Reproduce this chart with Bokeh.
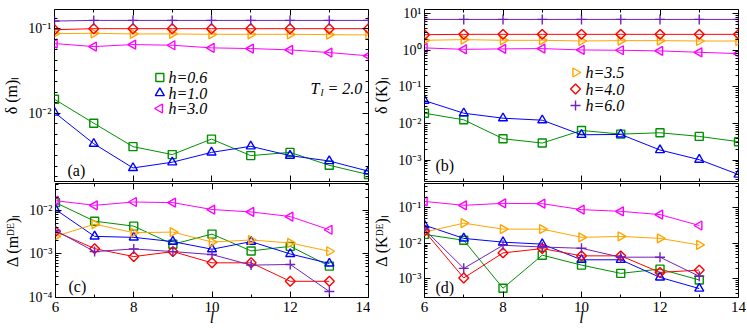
import math
from bokeh.plotting import figure
from bokeh.layouts import column, row
from bokeh.models import (Range1d, FixedTicker, LinearAxis, LogAxis, LinearScale,
                          Label, CustomJSTickFormatter)
from bokeh.embed import file_html
from bokeh.resources import INLINE

# ---------------- data ----------------
L = [6, 7, 8, 9, 10, 11, 12, 13, 14]
L13 = [6, 7, 8, 9, 10, 11, 12, 13]

h_labels = ["h=0.6", "h=1.0", "h=3.0", "h=3.5", "h=4.0", "h=6.0"]

# (a) delta <m>_l
a_h06 = [0.0146, 0.00762, 0.00402, 0.00324, 0.00494, 0.00315, 0.00344, 0.00242, 0.00188]
a_h10 = [0.0102, 0.00436, 0.00225, 0.00263, 0.00344, 0.00406, 0.00315, 0.00272, 0.00206]
a_h30 = [0.0667, 0.0614, 0.0649, 0.0637, 0.0593, 0.0582, 0.0561, 0.0522, 0.0477]
a_h35 = [0.0873, 0.0882, 0.0866, 0.0866, 0.0858, 0.0858, 0.0858, 0.0850, 0.0842]
a_h40 = [0.0973, 0.100, 0.100, 0.100, 0.100, 0.100, 0.100, 0.100, 0.100]
a_h60 = [0.1231, 0.1253, 0.1253, 0.1253, 0.1253, 0.1253, 0.1253, 0.1253, 0.1253]

# (b) delta <K>_l
b_h06 = [0.0191, 0.0126, 0.00384, 0.00292, 0.00646, 0.00513, 0.00558, 0.00444, 0.00318]
b_h10 = [0.0421, 0.0191, 0.01396, 0.0123, 0.00492, 0.00503, 0.00189, 0.00103, 0.000404]
b_h30 = [1.16, 1.06, 1.09, 1.11, 1.02, 1.00, 0.96, 0.88, 0.81]
b_h35 = [1.87, 1.95, 1.87, 1.87, 1.79, 1.83, 1.83, 1.79, 1.79]
b_h40 = [2.66, 2.72, 2.72, 2.72, 2.72, 2.72, 2.72, 2.72, 2.72]
b_h60 = [6.95, 6.95, 6.95, 6.95, 6.95, 6.95, 6.95, 6.95, 6.95]

# (c) Delta <m^DE>_l
c_h06 = [0.0150, 0.00561, 0.00431, 0.00165, 0.00283, 0.00116, 0.00148, 0.000519]
c_h10 = [0.0104, 0.00251, 0.00238, 0.00190, 0.00127, 0.00190, 0.00099, 0.000597]
c_h30 = [0.0166, 0.0130, 0.0155, 0.0150, 0.0104, 0.00916, 0.00717, 0.00356]
c_h35 = [0.00251, 0.00480, 0.00304, 0.00315, 0.00186, 0.00207, 0.00177, 0.00114]
c_h40 = [0.00326, 0.00131, 0.00086, 0.00112, 0.000618, 0.000618, 0.000232, 0.000232]
c_h60 = [0.00343, 0.00112, 0.00129, 0.00112, 0.000957, 0.000547, 0.000566, 0.000135]

# (d) Delta <K^DE>_l
d_h06 = [0.0180, 0.0123, 0.00055, 0.00468, 0.00246, 0.00144, 0.00190, 0.000937]
d_h10 = [0.0328, 0.0139, 0.0109, 0.00958, 0.00347, 0.00347, 0.00111, 0.000537]
d_h30 = [0.153, 0.119, 0.135, 0.132, 0.0898, 0.0806, 0.0651, 0.0321]
d_h35 = [0.0210, 0.0373, 0.0254, 0.0254, 0.0149, 0.0158, 0.0139, 0.00908]
d_h40 = [0.0223, 0.00107, 0.00543, 0.00718, 0.00448, 0.00448, 0.00153, 0.00178]
d_h60 = [0.0248, 0.00199, 0.0089, 0.00795, 0.00733, 0.00411, 0.00411, 0.00119]

x_ticks = [6, 8, 10, 12, 14]
x_minor = [7, 9, 11, 13]

# ---------------- style ----------------
FONT = "Liberation Serif"
colors = ["#009000", "#0000ff", "#ff00ff", "#ffa500", "#ff0000", "#7221bc"]
markers = ["square", "triangle", "triangle", "triangle", "square", "cross"]
angles = [0, 0, math.pi / 2, -math.pi / 2, math.pi / 4, 0]
sizes = [8, 9, 9, 9, 7, 10]

sup_fmt = CustomJSTickFormatter(code="""
const e = Math.round(Math.log10(tick));
const m = {"-":"\u207b","0":"\u2070","1":"\u00b9","2":"\u00b2","3":"\u00b3","4":"\u2074","5":"\u2075"};
return "10" + String(e).split("").map(c => m[c]).join("");
""")


def log_minor(lo, hi):
    return [m * 10.0 ** k for k in range(lo, hi) for m in range(2, 10)]


def make_panel(w, h, bl, br, bt, bb, ylo, yhi, yticks, yminor, ylabel, show_x_labels):
    p = figure(width=w, height=h, y_axis_type="log", output_backend="svg",
               toolbar_location=None, min_border_left=bl, min_border_right=br,
               min_border_top=bt, min_border_bottom=bb,
               x_range=Range1d(6, 14), y_range=Range1d(ylo, yhi))
    p.xgrid.visible = False
    p.ygrid.visible = False
    p.outline_line_color = "black"
    p.outline_line_width = 1
    p.background_fill_color = "white"
    p.border_fill_color = "white"

    yt = FixedTicker(ticks=yticks, minor_ticks=yminor)
    xt = FixedTicker(ticks=x_ticks, minor_ticks=x_minor)

    def style(ax, labels):
        ax.axis_line_color = None
        ax.major_tick_in = 6
        ax.major_tick_out = 0
        ax.minor_tick_in = 3
        ax.minor_tick_out = 0
        ax.major_tick_line_color = "black"
        ax.minor_tick_line_color = "black"
        if labels:
            ax.major_label_text_font = FONT
            ax.major_label_text_color = "black"
        else:
            ax.major_label_text_font_size = "1px"
            ax.major_label_text_alpha = 0
            ax.major_label_standoff = 0

    ya = p.yaxis[0]
    ya.ticker = yt
    ya.formatter = sup_fmt
    style(ya, True)
    ya.major_label_text_font_size = "14px"
    ya.major_label_standoff = 3
    ya.axis_label = ylabel
    ya.axis_label_text_font = FONT
    ya.axis_label_text_font_size = "16px"
    ya.axis_label_text_font_style = "normal"
    ya.axis_label_text_color = "black"
    ya.axis_label_standoff = 5

    xa = p.xaxis[0]
    xa.ticker = xt
    style(xa, show_x_labels)
    if show_x_labels:
        xa.major_label_text_font_size = "15px"
        xa.major_label_standoff = 4
        xa.axis_label = "l"
        xa.axis_label_text_font = FONT
        xa.axis_label_text_font_size = "16px"
        xa.axis_label_text_font_style = "italic"
        xa.axis_label_text_color = "black"
        xa.axis_label_standoff = -6

    ra = LogAxis(ticker=yt)
    style(ra, False)
    p.add_layout(ra, "right")
    ta = LinearAxis(ticker=xt)
    style(ta, False)
    p.add_layout(ta, "above")

    # pixel-unit overlay range used only to place legend swatches
    p.extra_x_ranges = {"px": Range1d(0, 316)}
    p.extra_y_ranges = {"px": Range1d(0, 172)}
    p.extra_x_scales = {"px": LinearScale()}
    p.extra_y_scales = {"px": LinearScale()}
    return p


def add_series(p, xs, series):
    for i, ys in enumerate(series):
        xv = xs[:len(ys)]
        p.line(x=xv, y=ys, line_color=colors[i], line_width=1)
        p.scatter(x=xv, y=ys, marker=markers[i], angle=angles[i],
                  size=sizes[i], line_color=colors[i], line_width=1.4, fill_alpha=0)


def add_label(p, x, y, text, size="16px", style="normal", align="left", baseline="alphabetic"):
    p.add_layout(Label(x=x, y=y, x_units="screen", y_units="screen", text=text,
                       text_font=FONT, text_font_size=size, text_font_style=style,
                       text_align=align, text_baseline=baseline, text_color="black"))


def add_legend(p, idx, x0, y_top, pitch, text_dx):
    for k, i in enumerate(idx):
        y = y_top - k * pitch
        p.scatter(x=[x0], y=[y], x_range_name="px", y_range_name="px",
                  marker=markers[i], angle=angles[i], size=sizes[i],
                  line_color=colors[i], line_width=1.4, fill_alpha=0)
        add_label(p, x0 + text_dx, y, h_labels[i], "16px", "italic", baseline="middle")


# ---------------- panels ----------------
pa = make_panel(370, 182, 52, 2, 9, 1, 10 ** -2.808, 10 ** -0.773,
                [0.001, 0.01, 0.1], [10 ** (k + j / 8) for k in (-3, -2, -1) for j in range(1, 8)],
                "\u03b4 (m)\u2097", False)
add_series(pa, L, [a_h06, a_h10, a_h30, a_h35, a_h40, a_h60])
add_legend(pa, [0, 1, 2], 106, 104, 15.5, 8)
add_label(pa, 256, 93, "T", "16px", "italic")
add_label(pa, 266, 90, "l", "11px", "italic")
add_label(pa, 273, 93, "= 2.0", "16px", "italic")
add_label(pa, 13, 11, "(a)", "16px", baseline="middle")

pb = make_panel(376, 182, 52, 8, 9, 1, 10 ** -3.584, 10 ** 1.113,
                [0.001, 0.01, 0.1, 1, 10], log_minor(-4, 2), "\u03b4 (K)\u2097", False)
add_series(pb, L, [b_h06, b_h10, b_h30, b_h35, b_h40, b_h60])
add_legend(pb, [3, 4, 5], 152, 109, 16.5, 9)
add_label(pb, 11, 16, "(b)", "16px", baseline="middle")

pc = make_panel(370, 149, 52, 2, 1, 34, 10 ** -4.007, 10 ** -1.384,
                [0.0001, 0.001, 0.01], log_minor(-5, -1), "\u0394 (m\u1d30\u1d31)\u2097", True)
add_series(pc, L13, [c_h06, c_h10, c_h30, c_h35, c_h40, c_h60])
add_label(pc, 13, 11, "(c)", "16px", baseline="middle")

pd = make_panel(376, 149, 52, 8, 1, 34, 10 ** -3.522, 10 ** -0.31,
                [0.001, 0.01, 0.1], log_minor(-4, 0), "\u0394 (K\u1d30\u1d31)\u2097", True)
add_series(pd, L13, [d_h06, d_h10, d_h30, d_h35, d_h40, d_h60])
add_label(pd, 11, 10, "(d)", "16px", baseline="middle")

layout = column(row(pa, pb), row(pc, pd))

with open("out.html", "w") as f:
    f.write(file_html(layout, INLINE))
